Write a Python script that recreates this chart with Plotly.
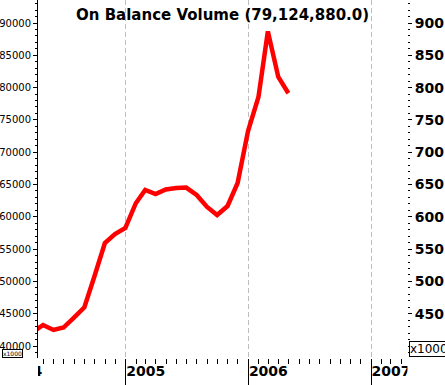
import plotly.graph_objects as go
import pandas as pd

# ---- data (OBV in thousands, month-end) ----
DATES = ["2004-03-31", "2004-04-30", "2004-05-31", "2004-06-30", "2004-07-31",
         "2004-08-31", "2004-09-30", "2004-10-31", "2004-11-30", "2004-12-31",
         "2005-01-31", "2005-02-28", "2005-03-31", "2005-04-30", "2005-05-31",
         "2005-06-30", "2005-07-31", "2005-08-31", "2005-09-30", "2005-10-31",
         "2005-11-30", "2005-12-31", "2006-01-31", "2006-02-28", "2006-03-31",
         "2006-04-30"]
OBV_K = [42170, 43250, 42480, 42860, 44410,
         45990, 50800, 55940, 57340, 58270,
         62100, 64150, 63530, 64230, 64460,
         64520, 63370, 61520, 60280, 61670,
         65230, 73280, 78540, 88700, 81640,
         79124.88]
YEAR_TICKS = ["2004-01-01", "2005-01-01", "2006-01-01", "2007-01-01"]
YEAR_LABELS = ["2004", "2005", "2006", "2007"]
RIGHT_SCALE = 100  # right axis shows the same scale / 100
UNIT_LABEL = "x1000"
TITLE = "On Balance Volume ({:,.1f})".format(OBV_K[-1] * 1000)

# ---- layout geometry ----
W, H = 445, 385
PL, PR = 38, 407          # plot area left / right in px
B = 27                    # bottom margin
PH = H - B
X_RANGE = ["2004-04-15", "2007-04-18"]
Y_RANGE = [38142, 93560]

t0 = pd.Timestamp(X_RANGE[0])
t1 = pd.Timestamp(X_RANGE[1])
per_px = (t1 - t0) / (PR - PL)
X2_RANGE = [(t0 - per_px * PL).strftime("%Y-%m-%d %H:%M"),
            (t1 + per_px * (W - PR)).strftime("%Y-%m-%d %H:%M")]

fig = go.Figure()
fig.add_trace(go.Scatter(x=DATES, y=OBV_K, mode="lines",
                         line=dict(color="#FF0000", width=4.5),
                         hoverinfo="skip", showlegend=False))
# invisible companions so the secondary axes get their subplots
fig.add_trace(go.Scatter(x=DATES, y=[v / RIGHT_SCALE for v in OBV_K],
                         yaxis="y2", mode="lines", opacity=0,
                         line=dict(width=0), hoverinfo="skip",
                         showlegend=False))
fig.add_trace(go.Scatter(x=DATES, y=OBV_K, xaxis="x2", mode="lines",
                         opacity=0, line=dict(width=0), hoverinfo="skip",
                         showlegend=False))

small_font = dict(family="DejaVu Sans", size=10, color="black")
bold_font = dict(family="DejaVu Sans", size=14, color="black", weight="bold")

fig.update_layout(
    width=W, height=H,
    margin=dict(l=0, r=0, t=0, b=B, pad=0, autoexpand=False),
    paper_bgcolor="white", plot_bgcolor="rgba(0,0,0,0)",
    showlegend=False,
    xaxis=dict(
        type="date", domain=[PL / W, PR / W], range=X_RANGE, automargin=False,
        tickmode="array", tickvals=YEAR_TICKS, showticklabels=False,
        ticks="outside", ticklen=27, tickcolor="black", tickwidth=1,
        showgrid=True, gridcolor="#BDBDBD", griddash="5px,3px", gridwidth=1,
        showline=False, zeroline=False,
        minor=dict(tickmode="linear", tick0="2004-01-01", dtick="M1",
                   ticks="outside", ticklen=5, tickcolor="black",
                   showgrid=False),
    ),
    xaxis2=dict(
        type="date", domain=[0, 1], range=X2_RANGE, anchor="y",
        automargin=False,
        tickmode="array", tickvals=YEAR_TICKS, ticktext=YEAR_LABELS,
        ticks="outside", ticklen=6, tickcolor="rgba(0,0,0,0)",
        ticklabelposition="outside right", tickfont=bold_font,
        showgrid=False, showline=False, zeroline=False,
    ),
    yaxis=dict(
        range=Y_RANGE, anchor="x", side="left", automargin=False,
        tickmode="linear", tick0=0, dtick=5000, tickformat="d",
        ticks="outside", ticklen=4, tickcolor="black",
        tickfont=small_font,
        showline=True, linecolor="black", linewidth=1,
        showgrid=False, zeroline=False,
        minor=dict(tickmode="linear", tick0=0, dtick=1000,
                   ticks="outside", ticklen=2, tickcolor="black",
                   showgrid=False),
    ),
    yaxis2=dict(
        range=[v / RIGHT_SCALE for v in Y_RANGE], overlaying="y", anchor="x",
        side="right", automargin=False,
        tickmode="linear", tick0=0, dtick=50, tickformat="d",
        ticks="outside", ticklen=4, tickcolor="black",
        tickfont=bold_font,
        showline=False, showgrid=False, zeroline=False,
        minor=dict(tickmode="linear", tick0=0, dtick=10,
                   ticks="outside", ticklen=2, tickcolor="black",
                   showgrid=False),
    ),
    shapes=[
        dict(type="rect", xref="paper", yref="paper", layer="above",
             x0=0, x1=PL / W, y0=-B / PH, y1=-0.002,
             fillcolor="white", line=dict(width=0)),
        dict(type="rect", xref="paper", yref="paper", layer="above",
             x0=PR / W + 0.001, x1=1, y0=-B / PH, y1=-0.002,
             fillcolor="white", line=dict(width=0)),
    ],
    annotations=[
        dict(text=TITLE, xref="paper", yref="paper",
             x=(PL + PR) / 2 / W, y=1, xanchor="center", yanchor="top",
             yshift=-4, showarrow=False,
             font=dict(family="DejaVu Sans", size=15, color="black",
                       weight="bold")),
        dict(text=UNIT_LABEL, xref="paper", yref="paper",
             x=2 / W, y=0, xanchor="left", yanchor="bottom",
             showarrow=False, bgcolor="white", bordercolor="black",
             borderwidth=1, borderpad=0,
             font=dict(family="DejaVu Sans", size=6, color="black")),
        dict(text=UNIT_LABEL, xref="paper", yref="paper",
             x=(PR + 2) / W, y=0, xanchor="left", yanchor="bottom",
             yshift=1, showarrow=False, bgcolor="white", bordercolor="black",
             borderwidth=1, borderpad=0,
             font=dict(family="DejaVu Sans", size=12, color="black")),
    ],
)

fig.write_html("out.html",
               config={"displayModeBar": False},
               post_script="document.body.style.margin='0';")
